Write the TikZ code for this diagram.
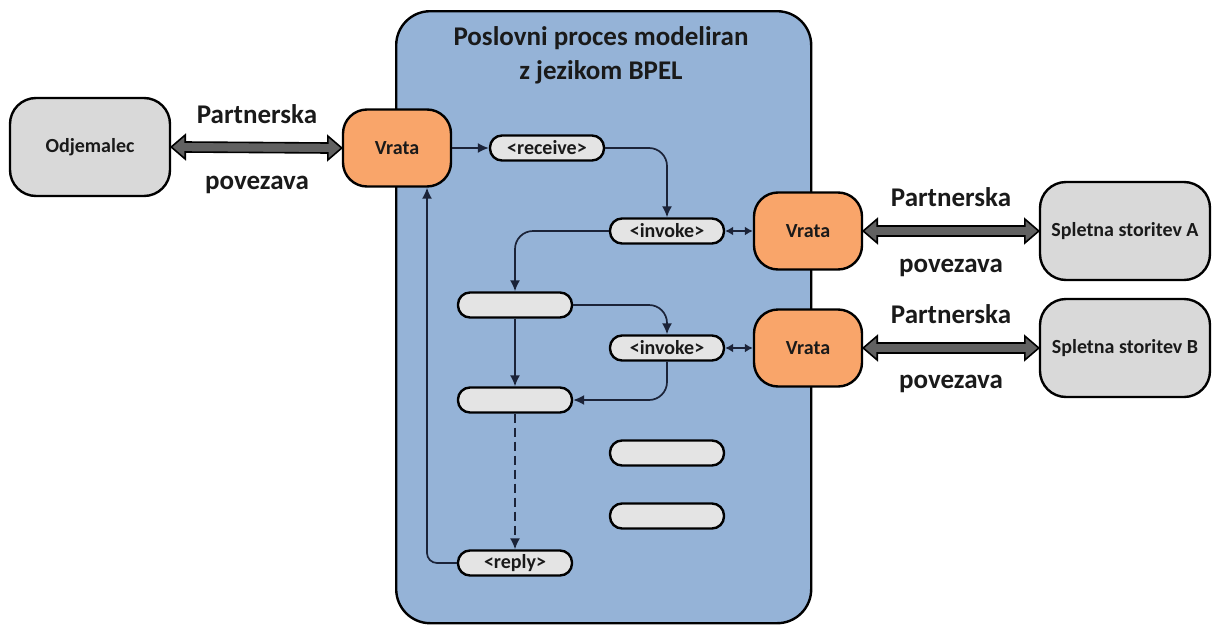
\documentclass[tikz,border=0pt]{standalone}
\usepackage{fontspec}
\setmainfont{Carlito}
\usetikzlibrary{arrows.meta,calc}
\definecolor{procblue}{HTML}{95B3D7}
\definecolor{boxgray}{HTML}{D9D9D9}
\definecolor{pillgray}{HTML}{E4E4E4}
\definecolor{gateorange}{HTML}{F9A56A}
\definecolor{flowline}{HTML}{1B2338}
\definecolor{textdark}{HTML}{1A1A1A}
\tikzset{
  party/.style={draw=black, line width=2.4pt, fill=boxgray, rounded corners=26pt,
    minimum width=160pt, minimum height=98pt, font=\bfseries\fontsize{20}{22}\selectfont, text=textdark},
  gate/.style={draw=black, line width=2.4pt, fill=gateorange, rounded corners=24pt,
    minimum width=108pt, minimum height=77pt, font=\bfseries\fontsize{20}{22}\selectfont, text=textdark},
  activity/.style={draw=black, line width=2.4pt, fill=pillgray, rounded corners=12pt,
    minimum width=114pt, minimum height=25pt, inner sep=0pt, font=\bfseries\fontsize{20}{22}\selectfont, text=textdark},
  linklabel/.style={font=\bfseries\fontsize{27}{30}\selectfont, text=textdark},
  flow/.style={draw=flowline, line width=1.7pt, -{Latex[length=11pt,width=10pt]}, rounded corners=18pt},
  portlink/.style={draw=flowline, line width=1.7pt, {Latex[length=8pt,width=9pt]}-{Latex[length=8pt,width=9pt]}},
}
% thick outlined two-headed partner link between two nodes
\newcommand{\partnerlink}[2]{%
  \path let \p1=(#1.east), \p2=(#2.west) in
    [draw=black, fill=black!62, line width=1.6pt, line join=miter]
    (\x1,\y1) -- (\x1+14pt,\y1+12pt) -- (\x1+14pt,\y1+5pt) -- (\x2-14pt,\y2+5pt)
    -- (\x2-14pt,\y2+12pt) -- (\x2,\y2) -- (\x2-14pt,\y2-12pt) -- (\x2-14pt,\y2-5pt)
    -- (\x1+14pt,\y1-5pt) -- (\x1+14pt,\y1-12pt) -- cycle;}
\begin{document}
\begin{tikzpicture}[x=1pt,y=-1pt]
\useasboundingbox (0,0) rectangle (1218,624);

% process container
\node[draw=black, line width=2.4pt, fill=procblue, rounded corners=34pt,
  minimum width=415pt, minimum height=612pt, anchor=north west] (proc) at (395,10) {};
\node[font=\bfseries\fontsize{27}{34}\selectfont, text=textdark, align=center] (title) at (601,55)
  {Poslovni proces modeliran\\z jezikom BPEL};

% partners
\node[party] (client) at (90,147) {Odjemalec};
\node[party, minimum width=170pt] (svcA) at (1125,231) {Spletna storitev A};
\node[party, minimum width=170pt] (svcB) at (1125,348) {Spletna storitev B};

% gates
\node[gate] (gate1) at (397,148) {Vrata};
\node[gate] (gate2) at (808,231) {Vrata};
\node[gate] (gate3) at (808,348) {Vrata};

% activities
\node[activity] (receive) at (547,148) {<receive>};
\node[activity] (invoke1) at (667,231) {<invoke>};
\node[activity] (act1) at (515,305) {};
\node[activity] (invoke2) at (667,348) {<invoke>};
\node[activity] (act2) at (515,400) {};
\node[activity] (act3) at (667,453) {};
\node[activity] (act4) at (667,516) {};
\node[activity] (reply) at (515,563) {<reply>};

% partner links
\partnerlink{client}{gate1}
\partnerlink{gate2}{svcA}
\partnerlink{gate3}{svcB}
\node[linklabel] (pl1) at (257,114) {Partnerska};
\node[linklabel] (pv1) at (257,185) {povezava};
\node[linklabel] (pl2) at (951,197) {Partnerska};
\node[linklabel] (pv2) at (951,268) {povezava};
\node[linklabel] (pl3) at (951,314) {Partnerska};
\node[linklabel] (pv3) at (951,384) {povezava};

% control flow
\draw[flow] (gate1.east) -- (receive.west);
\draw[flow] (receive.east) -| (invoke1.north);
\draw[flow] (invoke1.west) -| (act1.north);
\draw[flow] (act1.east) -| (invoke2.north);
\draw[flow] (act1.south) -- (act2.north);
\draw[flow] (invoke2.south) |- (act2.east);
\draw[flow, dashed, dash pattern=on 9pt off 5pt] (act2.south) -- (reply.north);
\coordinate (back) at ($(gate1.south)+(30,0)$);
\draw[flow, rounded corners=10pt] (reply.west) -| (back);

% port connections
\draw[portlink] (invoke1.east) -- (gate2.west);
\draw[portlink] (invoke2.east) -- (gate3.west);
\end{tikzpicture}
\end{document}
